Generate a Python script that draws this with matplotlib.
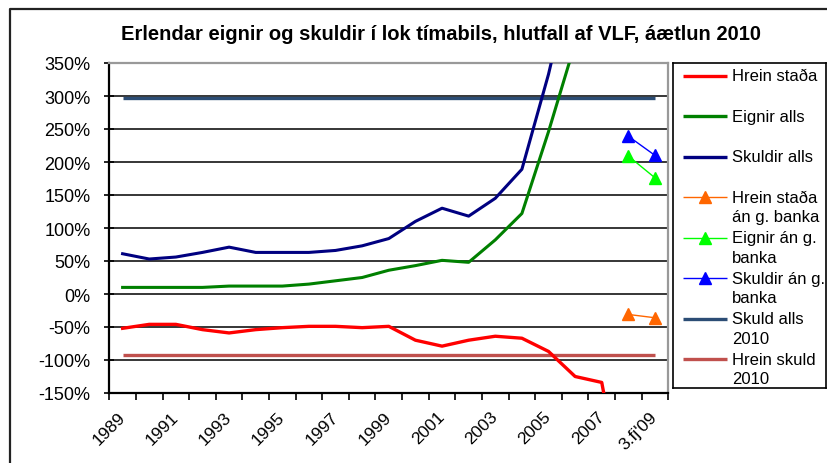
import numpy as np
import matplotlib
matplotlib.use('Agg')
import matplotlib.pyplot as plt
from matplotlib.lines import Line2D
from matplotlib.ticker import FuncFormatter

plt.rcParams['font.family'] = ['Liberation Sans', 'DejaVu Sans']

# ---- data (hlutfall af VLF, %) ----
categories = ['1989', '1990', '1991', '1992', '1993', '1994', '1995', '1996', '1997', '1998',
              '1999', '2000', '2001', '2002', '2003', '2004', '2005', '2006', '2007', '2008',
              "3.fj'09"]
hrein_stada = [-52, -46, -46, -54, -59, -54, -51, -49, -49, -51, -49, -70, -79, -70, -64, -67,
               -87, -125, -134, -350, -330]
eignir_alls = [10, 10, 10, 10, 12, 12, 12, 15, 20, 25, 36, 43, 51, 48, 82, 122, 246, 380, 560,
               450, 520]
skuldir_alls = [61, 53, 56, 63, 71, 63, 63, 63, 66, 73, 84, 110, 130, 118, 145, 189, 333, 505,
                694, 800, 850]
# án gömlu bankanna: aðeins síðustu tvö tímabil
an_banka_cats = ['2008', "3.fj'09"]
hrein_an_banka = [-31, -36]
eignir_an_banka = [209, 176]
skuldir_an_banka = [239, 210]
skuld_alls_2010 = 297
hrein_skuld_2010 = -93

legend_labels = ['Hrein staða', 'Eignir alls', 'Skuldir alls', 'Hrein staða\nán g. banka',
                 'Eignir án g.\nbanka', 'Skuldir án g.\nbanka', 'Skuld alls\n2010', 'Hrein skuld\n2010']

c_red, c_green, c_navy = '#FF0000', '#008000', '#000080'
c_orange, c_lime, c_blue = '#FF6600', '#00FF00', '#0000FF'
c_skuld, c_hrein = '#2C4D75', '#C0504D'

W, H = 827, 464
fig = plt.figure(figsize=(W / 100, H / 100), dpi=100)

# outer chart frame
fig.add_artist(Line2D([10 / W, 10 / W, 1], [0, 1 - 10 / H, 1 - 10 / H], transform=fig.transFigure,
                      color='#222222', lw=1.6))

fig.text(441 / W, 1 - 35 / H, 'Erlendar eignir og skuldir í lok tímabils, hlutfall af VLF, áætlun 2010',
         ha='center', va='center', fontsize=14.5, fontweight='bold')

ax = fig.add_axes([109.3 / W, 1 - 394 / H, 559 / W, 330 / H])
x = np.arange(len(categories))
idx = {c: i for i, c in enumerate(categories)}
x_an = [idx[c] for c in an_banka_cats]

ax.plot(x, [skuld_alls_2010] * len(x), color=c_skuld, lw=2.4, solid_capstyle='butt', zorder=3)
ax.plot(x, [hrein_skuld_2010] * len(x), color=c_hrein, lw=2.4, solid_capstyle='butt', zorder=3)
ax.plot(x, hrein_stada, color=c_red, lw=2.4, zorder=4)
ax.plot(x, eignir_alls, color=c_green, lw=2.2, zorder=4)
ax.plot(x, skuldir_alls, color=c_navy, lw=2.2, zorder=4)
ax.plot(x_an, hrein_an_banka, color=c_orange, lw=1, marker='^', ms=9, zorder=5)
ax.plot(x_an, eignir_an_banka, color=c_lime, lw=1, marker='^', ms=9, zorder=5)
ax.plot(x_an, skuldir_an_banka, color=c_blue, lw=1, marker='^', ms=9, zorder=5)

ax.set_xlim(-0.5, len(x) - 0.5)
ax.set_ylim(-150, 350)
ax.set_yticks(np.arange(-150, 351, 50))
ax.yaxis.set_major_formatter(FuncFormatter(lambda v, p: f'{v:.0f}%'))
ax.yaxis.grid(True, color='black', lw=1.1)
ax.set_axisbelow(True)

ax.set_xticks(x[::2])
ax.set_xticklabels(categories[::2], rotation=45, ha='right', va='center', rotation_mode='anchor')
ax.set_xticks(np.arange(-0.5, len(x), 1), minor=True)
ax.tick_params(axis='x', which='major', length=0, pad=15, labelsize=12.5)
ax.tick_params(axis='x', which='minor', length=5, width=1.2, direction='out', color='black')
ax.tick_params(axis='y', length=7, width=1.2, direction='inout', pad=10, labelsize=13)

for side in ['top', 'right']:
    ax.spines[side].set_color('#999999')
    ax.spines[side].set_linewidth(1.6)
for side in ['left', 'bottom']:
    ax.spines[side].set_color('black')
    ax.spines[side].set_linewidth(1.6)

# legend box drawn by hand so the handle sits on the first text line
lax = fig.add_axes([673 / W, 1 - 389.3 / H, 153 / W, 325.3 / H])
lax.set_xlim(0, 153)
lax.set_ylim(325.3, 0)
lax.set_xticks([])
lax.set_yticks([])
for s in lax.spines.values():
    s.set_color('black')
    s.set_linewidth(1.2)
styles = [(c_red, None, 2.4), (c_green, None, 2.4), (c_navy, None, 2.4),
          (c_orange, '^', 1), (c_lime, '^', 1), (c_blue, '^', 1),
          (c_skuld, None, 2.4), (c_hrein, None, 2.4)]
for i, (lab, (col, mk, lw)) in enumerate(zip(legend_labels, styles)):
    yy = 12.7 + 40.5 * i
    lax.plot([9.7, 53.7], [yy, yy], color=col, lw=lw, solid_capstyle='butt')
    if mk:
        lax.plot([31.7], [yy], color=col, marker=mk, ms=9, ls='none')
    for k, line in enumerate(lab.split('\n')):
        lax.text(58.7, yy + 19.5 * k, line, fontsize=12, va='center', ha='left')

fig.savefig('out.png', dpi=100)
